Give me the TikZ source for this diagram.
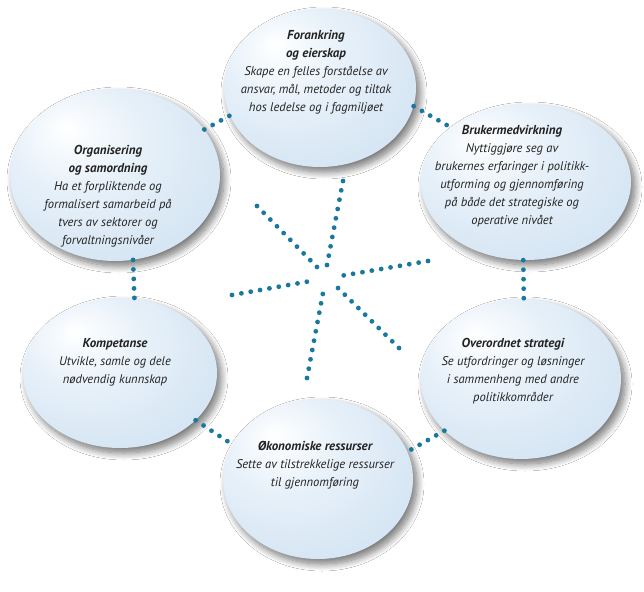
\documentclass[tikz,border=0pt]{standalone}
\usepackage{fontspec}
\setmainfont{PT Sans}
\newcommand{\bubtitle}[1]{{\bfseries\fontsize{13}{18}\selectfont #1}}
\usetikzlibrary{shapes.geometric,shadows.blur}
\definecolor{dotc}{RGB}{26,120,158}
\definecolor{bubA}{RGB}{230,240,249}
\definecolor{bubB}{RGB}{204,223,240}
\definecolor{bubC}{RGB}{180,206,231}
\definecolor{txt}{RGB}{34,34,34}
\pgfdeclareradialshading{bubble}{\pgfpoint{-12bp}{14bp}}{color(0bp)=(white); color(16bp)=(bubA); color(44bp)=(bubB); color(64bp)=(bubC)}
\begin{document}
\begin{tikzpicture}[x=1bp,y=-1bp,
  bub/.style={ellipse, inner sep=0pt, shading=bubble, draw=none,
    blur shadow={shadow xshift=4bp, shadow yshift=-5bp, shadow blur radius=7bp, shadow blur steps=12, shadow opacity=55}},
  dotline/.style={draw=dotc, line width=4.8bp, line cap=round, dash pattern=on 0bp off 9.5bp},
  lbl/.style={align=center, text=txt, font=\fontsize{12.6}{18}\selectfont\itshape, inner sep=0pt},
]
\useasboundingbox[fill=white] (0,0) rectangle (644,592);

% star rays
\coordinate (u1) at (343,181); \coordinate (u2) at (327,265);
\coordinate (ul1) at (257,206); \coordinate (ul2) at (317,267);
\coordinate (r1) at (428,261); \coordinate (r2) at (340,276);
\coordinate (l1) at (232,295); \coordinate (l2) at (311,281);
\coordinate (d1) at (307,378); \coordinate (d2) at (323,293);
\coordinate (lr1) at (399,348); \coordinate (lr2) at (337,287);
\draw[dotline] (u1) -- (u2);
\draw[dotline] (ul1) -- (ul2);
\draw[dotline] (r1) -- (r2);
\draw[dotline] (l1) -- (l2);
\draw[dotline] (d1) -- (d2);
\draw[dotline] (lr1) -- (lr2);

% bubbles
\node[bub, minimum width=192bp, minimum height=158bp] (T) at (320,88) {};
\node[bub, minimum width=210bp, minimum height=172bp] (O) at (115,175) {};
\node[bub, minimum width=210bp, minimum height=156bp] (B) at (526,182) {};
\node[bub, minimum width=194bp, minimum height=150bp] (K) at (120,373) {};
\node[bub, minimum width=200bp, minimum height=160bp] (S) at (521,379) {};
\node[bub, minimum width=190bp, minimum height=160bp] (E) at (318,479) {};

% connectors between bubbles
\draw[dotline] (O.27) -- (T.197);
\draw[dotline] (T.-11) -- (B.144);
\draw[dotline] (B.268) -- (S.88.5);
\draw[dotline] (S.214) -- (E.17);
\draw[dotline] (K.-32) -- (E.158);
\draw[dotline] (O.-78) -- (K.79);

% texts
\node[lbl] (tT) at (316,72.5) {\bubtitle{Forankring}\\ \bubtitle{og eierskap}\\ Skape en felles forståelse av\\ ansvar, mål, metoder og tiltak\\ hos ledelse og i fagmiljøet};
\node[lbl] (tO) at (108,196) {\bubtitle{Organisering}\\ \bubtitle{og samordning}\\ Ha et forpliktende og\\ formalisert samarbeid på\\ tvers av sektorer og\\ forvaltningsnivåer};
\node[lbl] (tB) at (512,176) {\bubtitle{Brukermedvirkning}\\ Nyttiggjøre seg av\\ brukernes erfaringer i politikk-\\ utforming og gjennomføring\\ på både det strategiske og\\ operative nivået};
\node[lbl] (tK) at (115,362) {\bubtitle{Kompetanse}\\ Utvikle, samle og dele\\ nødvendig kunnskap};
\node[lbl] (tS) at (513,371) {\bubtitle{Overordnet strategi}\\ Se utfordringer og løsninger\\ i sammenheng med andre\\ politikkområder};
\node[lbl] (tE) at (315,465) {\bubtitle{Økonomiske ressurser}\\ Sette av tilstrekkelige ressurser\\ til gjennomføring};
\end{tikzpicture}
\end{document}
